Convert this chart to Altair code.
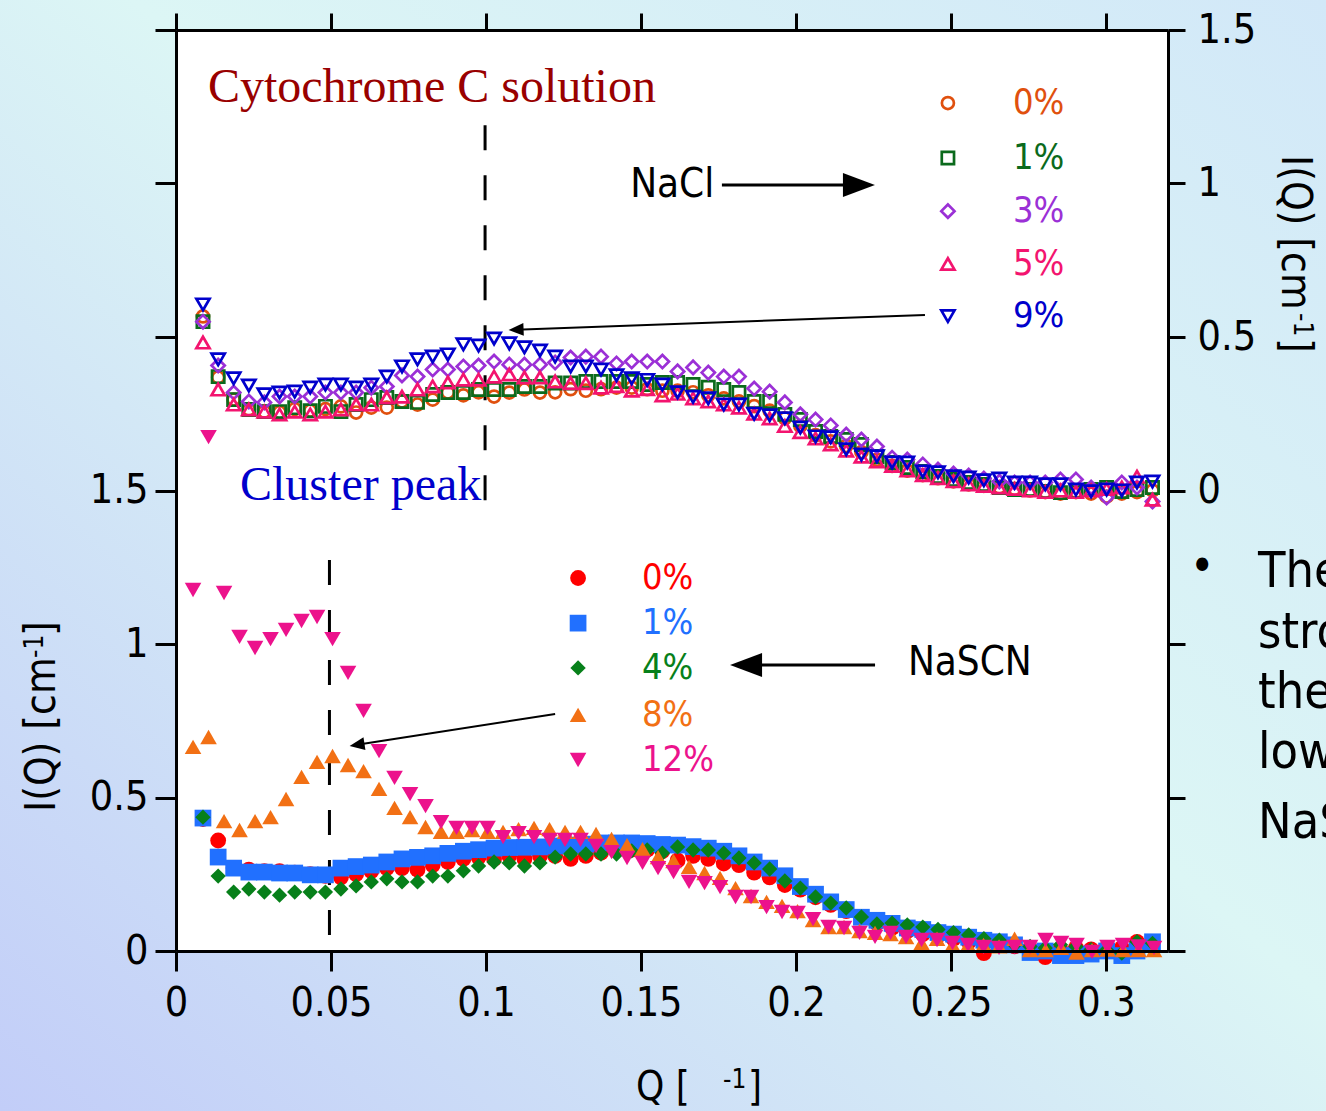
import altair as alt
import pandas as pd

# ---------------------------------------------------------------- layout
W, H = 992, 921                      # plot area in px
PAD = {"left": 176, "top": 30, "right": 158, "bottom": 160}
Q_MAX, I_MAX = 0.32, 3.0
NACL_SHIFT = 1.5                     # NaCl curves are lifted by 1.5 (right axis)
SANS = "DejaVu Sans Condensed"
SERIF = "Liberation Serif"

# ---------------------------------------------------------------- data
# Q grid of the NaCl runs and of NaSCN 0 %, 1 %, 4 %
Q_B = [0.0087, 0.0136, 0.0186, 0.0235, 0.0285, 0.0334, 0.0383, 0.0433, 0.0482, 0.0532,
       0.0581, 0.0630, 0.0680, 0.0729, 0.0779, 0.0828, 0.0877, 0.0927, 0.0976, 0.1026,
       0.1075, 0.1124, 0.1174, 0.1223, 0.1273, 0.1322, 0.1371, 0.1421, 0.1470, 0.1520,
       0.1569, 0.1618, 0.1668, 0.1717, 0.1767, 0.1816, 0.1865, 0.1915, 0.1964, 0.2014,
       0.2063, 0.2112, 0.2162, 0.2211, 0.2261, 0.2310, 0.2359, 0.2409, 0.2458, 0.2508,
       0.2557, 0.2606, 0.2656, 0.2705, 0.2755, 0.2804, 0.2853, 0.2903, 0.2952, 0.3002,
       0.3051, 0.3100, 0.3150]
# Q grid of NaSCN 8 % and 12 %
Q_A = [0.0055, 0.0105, 0.0155, 0.0205, 0.0255, 0.0305, 0.0355, 0.0405, 0.0455, 0.0505,
       0.0555, 0.0605, 0.0655, 0.0705, 0.0755, 0.0805, 0.0855, 0.0905, 0.0955, 0.1005,
       0.1055, 0.1105, 0.1155, 0.1205, 0.1255, 0.1305, 0.1355, 0.1405, 0.1455, 0.1505,
       0.1555, 0.1605, 0.1655, 0.1705, 0.1755, 0.1805, 0.1855, 0.1905, 0.1955, 0.2005,
       0.2055, 0.2105, 0.2155, 0.2205, 0.2255, 0.2305, 0.2355, 0.2405, 0.2455, 0.2505,
       0.2555, 0.2605, 0.2655, 0.2705, 0.2755, 0.2805, 0.2855, 0.2905, 0.2955, 0.3005,
       0.3055, 0.3105, 0.3155]

NACL_PCT = ["0%", "1%", "3%", "5%", "9%"]
NACL_0 = [0.567, 0.368, 0.296, 0.264, 0.257, 0.255, 0.265, 0.260, 0.265, 0.274,
          0.254, 0.270, 0.270, 0.290, 0.280, 0.296, 0.319, 0.310, 0.320, 0.306,
          0.319, 0.329, 0.319, 0.320, 0.330, 0.325, 0.330, 0.335, 0.335, 0.330,
          0.325, 0.325, 0.320, 0.310, 0.300, 0.290, 0.275, 0.260, 0.235, 0.210,
          0.180, 0.160, 0.145, 0.125, 0.100, 0.080, 0.065, 0.050, 0.040, 0.030,
          0.020, 0.015, 0.010, 0.005, 0.000, -0.005, -0.010, -0.005, -0.010, -0.020,
          -0.010, -0.005, 0.000]
NACL_1 = [0.550, 0.371, 0.296, 0.264, 0.257, 0.257, 0.270, 0.260, 0.274, 0.257,
          0.280, 0.296, 0.303, 0.290, 0.287, 0.313, 0.319, 0.319, 0.329, 0.329,
          0.329, 0.339, 0.339, 0.350, 0.350, 0.355, 0.355, 0.355, 0.355, 0.345,
          0.352, 0.352, 0.345, 0.336, 0.329, 0.319, 0.290, 0.290, 0.248, 0.231,
          0.192, 0.176, 0.166, 0.150, 0.111, 0.091, 0.075, 0.062, 0.046, 0.036,
          0.026, 0.020, 0.010, 0.003, 0.003, -0.003, -0.007, -0.003, 0.003, 0.010,
          -0.003, 0.003, 0.010]
NACL_3 = [0.550, 0.407, 0.319, 0.290, 0.287, 0.306, 0.306, 0.306, 0.319, 0.319,
          0.319, 0.335, 0.339, 0.375, 0.371, 0.394, 0.394, 0.404, 0.407, 0.420,
          0.410, 0.410, 0.410, 0.417, 0.433, 0.436, 0.436, 0.414, 0.420, 0.420,
          0.420, 0.388, 0.401, 0.384, 0.371, 0.371, 0.332, 0.322, 0.287, 0.248,
          0.231, 0.212, 0.182, 0.166, 0.143, 0.107, 0.101, 0.085, 0.068, 0.055,
          0.049, 0.039, 0.029, 0.026, 0.026, 0.026, 0.036, 0.036, 0.010, -0.023,
          0.026, 0.010, -0.036]
NACL_5 = [0.482, 0.329, 0.280, 0.264, 0.257, 0.248, 0.257, 0.248, 0.257, 0.264,
          0.280, 0.280, 0.303, 0.306, 0.329, 0.339, 0.352, 0.361, 0.361, 0.371,
          0.378, 0.368, 0.368, 0.355, 0.350, 0.350, 0.335, 0.340, 0.325, 0.330,
          0.310, 0.315, 0.300, 0.290, 0.280, 0.270, 0.250, 0.235, 0.210, 0.190,
          0.170, 0.150, 0.130, 0.110, 0.095, 0.080, 0.065, 0.050, 0.040, 0.030,
          0.020, 0.015, 0.010, 0.005, 0.000, -0.005, 0.000, -0.005, 0.000, 0.005,
          0.010, 0.045, -0.030]
NACL_9 = [0.606, 0.427, 0.365, 0.342, 0.313, 0.319, 0.322, 0.335, 0.345, 0.345,
          0.335, 0.345, 0.371, 0.404, 0.427, 0.436, 0.443, 0.476, 0.472, 0.495,
          0.479, 0.466, 0.456, 0.436, 0.404, 0.404, 0.394, 0.375, 0.365, 0.360,
          0.345, 0.320, 0.305, 0.300, 0.280, 0.280, 0.250, 0.245, 0.235, 0.205,
          0.176, 0.173, 0.134, 0.117, 0.111, 0.091, 0.091, 0.062, 0.059, 0.046,
          0.042, 0.033, 0.039, 0.026, 0.026, 0.020, 0.020, 0.003, -0.003, 0.003,
          0.000, 0.026, 0.029]
NACL_I = [NACL_0, NACL_1, NACL_3, NACL_5, NACL_9]

NASCN_PCT = ["0%", "1%", "4%", "8%", "12%"]
NASCN_0 = [0.430, 0.360, 0.270, 0.265, 0.260, 0.260, 0.255, 0.250, 0.245, 0.240,
           0.250, 0.260, 0.270, 0.270, 0.265, 0.280, 0.290, 0.300, 0.305, 0.300,
           0.310, 0.300, 0.310, 0.310, 0.300, 0.310, 0.320, 0.330, 0.330, 0.330,
           0.325, 0.295, 0.310, 0.300, 0.285, 0.280, 0.255, 0.240, 0.215, 0.200,
           0.175, 0.150, 0.130, 0.110, 0.090, 0.075, 0.065, 0.055, 0.050, 0.040,
           0.030, -0.007, 0.020, 0.015, 0.010, -0.020, 0.005, 0.010, 0.005, 0.010,
           0.010, 0.030, 0.030]
NASCN_1 = [0.433, 0.306, 0.270, 0.257, 0.257, 0.254, 0.254, 0.248, 0.248, 0.270,
           0.275, 0.280, 0.290, 0.300, 0.305, 0.310, 0.318, 0.325, 0.330, 0.335,
           0.337, 0.338, 0.339, 0.342, 0.345, 0.348, 0.352, 0.352, 0.352, 0.350,
           0.347, 0.345, 0.340, 0.335, 0.325, 0.310, 0.290, 0.270, 0.245, 0.210,
           0.185, 0.160, 0.135, 0.110, 0.100, 0.090, 0.075, 0.070, 0.060, 0.055,
           0.045, 0.035, 0.030, 0.020, -0.005, 0.000, -0.015, -0.015, -0.010, 0.000,
           -0.015, 0.000, 0.030]
NASCN_4 = [0.436, 0.244, 0.192, 0.202, 0.192, 0.182, 0.192, 0.192, 0.192, 0.202,
           0.212, 0.225, 0.235, 0.225, 0.225, 0.244, 0.244, 0.261, 0.277, 0.290,
           0.287, 0.277, 0.287, 0.306, 0.316, 0.316, 0.316, 0.316, 0.326, 0.329,
           0.319, 0.339, 0.329, 0.329, 0.319, 0.303, 0.287, 0.267, 0.228, 0.205,
           0.176, 0.156, 0.140, 0.111, 0.088, 0.091, 0.085, 0.078, 0.070, 0.060,
           0.052, 0.040, 0.035, 0.020, 0.015, 0.010, 0.020, 0.015, 0.005, 0.003,
           -0.007, 0.030, 0.025]
NASCN_8 = [0.665, 0.697, 0.423, 0.394, 0.423, 0.436, 0.495, 0.567, 0.616, 0.635,
           0.606, 0.586, 0.528, 0.466, 0.436, 0.404, 0.388, 0.388, 0.394, 0.388,
           0.388, 0.397, 0.401, 0.397, 0.388, 0.388, 0.381, 0.365, 0.345, 0.332,
           0.306, 0.293, 0.274, 0.254, 0.238, 0.205, 0.179, 0.160, 0.147, 0.130,
           0.101, 0.078, 0.078, 0.065, 0.059, 0.055, 0.045, 0.026, 0.040, 0.020,
           0.020, 0.020, 0.015, 0.040, 0.003, 0.003, 0.010, -0.005, 0.003, 0.005,
           0.003, 0.003, 0.003]
NASCN_12 = [1.176, 1.674, 1.166, 1.023, 0.987, 1.016, 1.046, 1.075, 1.088, 1.016,
            0.906, 0.782, 0.651, 0.564, 0.511, 0.472, 0.420, 0.401, 0.401, 0.401,
            0.371, 0.384, 0.371, 0.362, 0.362, 0.362, 0.342, 0.322, 0.303, 0.287,
            0.270, 0.257, 0.225, 0.221, 0.208, 0.176, 0.176, 0.143, 0.127, 0.124,
            0.104, 0.078, 0.075, 0.059, 0.046, 0.059, 0.046, 0.036, 0.036, 0.026,
            0.020, 0.013, 0.010, 0.013, 0.013, 0.036, 0.026, 0.020, -0.003, 0.013,
            0.020, 0.015, 0.010]
NASCN_I = [NASCN_0, NASCN_1, NASCN_4, NASCN_8, NASCN_12]
NASCN_Q = [Q_B, Q_B, Q_B, Q_A, Q_A]

NACL_COLORS = ["#e0500e", "#0b6a1c", "#9b30d6", "#f3146f", "#0000cc"]
NASCN_COLORS = ["#ff0000", "#2170ff", "#07801a", "#f27014", "#ec128c"]
MARKERS = ["circle", "square", "diamond", "triangle-up", "triangle-down"]
# symbol areas (px^2) per marker kind
NACL_SIZES = [145, 150, 175, 175, 175]
NASCN_SIZES = [250, 280, 235, 275, 275]

Q_TICKS = [0, 0.05, 0.1, 0.15, 0.2, 0.25, 0.3]
I_TICKS = [0, 0.5, 1.0, 1.5, 2.0, 2.5, 3.0]

# ---------------------------------------------------------------- tables
SERIES = [f"NaCl {p}" for p in NACL_PCT] + [f"NaSCN {p}" for p in NASCN_PCT]

nacl_rows = []
for pct, vals, sz in zip(NACL_PCT, NACL_I, NACL_SIZES):
    assert len(vals) == len(Q_B)
    nacl_rows += [{"Q": q, "I": v, "series": f"NaCl {pct}", "sz": sz} for q, v in zip(Q_B, vals)]
nacl_df = pd.DataFrame(nacl_rows)

nascn_rows = []
for pct, qs, vals, sz in zip(NASCN_PCT, NASCN_Q, NASCN_I, NASCN_SIZES):
    assert len(vals) == len(qs)
    nascn_rows += [{"Q": q, "I": v, "series": f"NaSCN {pct}", "sz": sz} for q, v in zip(qs, vals)]
nascn_df = pd.DataFrame(nascn_rows)

color_scale = alt.Scale(domain=SERIES, range=NACL_COLORS + NASCN_COLORS)
shape_scale = alt.Scale(domain=SERIES, range=MARKERS + MARKERS)
xs = alt.Scale(domain=[0, Q_MAX], nice=False, zero=False)
ys = alt.Scale(domain=[0, I_MAX], nice=False, zero=False)

# ---------------------------------------------------------------- axes
AX = dict(domainColor="black", domainWidth=3, tickColor="black", tickWidth=3,
          labelFont=SANS, labelFontSize=41, labelColor="black", grid=False,
          title=None, labelFlush=False, labelOverlap=False, zindex=2)
axis_bottom = alt.Axis(orient="bottom", values=Q_TICKS, format=".2~f",
                       tickSize=20, labelPadding=12, **AX)
axis_left = alt.Axis(orient="left", values=I_TICKS, tickSize=21, labelPadding=7,
                     labelExpr="datum.value <= 1.5 ? format(datum.value, '.2~f') : ''", **AX)
axis_top = alt.Axis(orient="top", values=Q_TICKS, labels=False, tickSize=17, **AX)
axis_right = alt.Axis(orient="right", values=I_TICKS, tickSize=17, labelPadding=12,
                      labelExpr="datum.value >= 1.5 ? format(datum.value - 1.5, '.2~f') : ''", **AX)


def X(field, axis=None):
    return alt.X(f"{field}:Q", scale=xs, axis=axis)


def Y(field, axis=None):
    return alt.Y(f"{field}:Q", scale=ys, axis=axis)


def SHAPE():
    return alt.Shape("series:N", scale=shape_scale, legend=None)


def COLOR():
    return alt.Color("series:N", scale=color_scale, legend=None)


one = pd.DataFrame({"k": [0]})

# ---------------------------------------------------------------- background
bg = alt.Chart(one).mark_rect(
    fill=alt.LinearGradient(
        gradient="linear", x1=0, y1=1, x2=1, y2=0,
        stops=[alt.GradientStop(color="#c2cdf8", offset=0),
               alt.GradientStop(color="#dcf6f5", offset=0.55),
               alt.GradientStop(color="#d2e8f8", offset=1)])
).encode(x=alt.value(-PAD["left"]), x2=alt.value(W + PAD["right"]),
         y=alt.value(-PAD["top"]), y2=alt.value(H + PAD["bottom"]))

plot_bg = alt.Chart(one).mark_rect(fill="white").encode(
    x=alt.value(0), x2=alt.value(W), y=alt.value(0), y2=alt.value(H))

# ---------------------------------------------------------------- data marks
nacl = alt.Chart(nacl_df).transform_calculate(
    Ioff=f"datum.I + {NACL_SHIFT}"
).mark_point(filled=False, strokeWidth=2.7, opacity=1).encode(
    x=X("Q", axis_bottom), y=Y("Ioff", axis_left),
    shape=SHAPE(), color=COLOR(), size=alt.Size("sz:Q", scale=None),
)

nascn = alt.Chart(nascn_df).mark_point(filled=True, opacity=1).encode(
    x=X("Q", axis_top), y=Y("I", axis_right),
    shape=SHAPE(), color=COLOR(), size=alt.Size("sz:Q", scale=None),
)

# ---------------------------------------------------------------- legends
nacl_leg = pd.DataFrame({
    "series": [f"NaCl {p}" for p in NACL_PCT], "label": NACL_PCT, "sz": NACL_SIZES,
    "qs": [0.249] * 5, "qt": [0.270] * 5,
    "i": [2.762, 2.583, 2.410, 2.238, 2.068]})
nascn_leg = pd.DataFrame({
    "series": [f"NaSCN {p}" for p in NASCN_PCT], "label": NASCN_PCT, "sz": NASCN_SIZES,
    "qs": [0.1297] * 5, "qt": [0.1503] * 5,
    "i": [1.215, 1.068, 0.922, 0.769, 0.622]})

leg_layers = []
for df, filled in [(nacl_leg, False), (nascn_leg, True)]:
    leg_layers.append(alt.Chart(df).mark_point(filled=filled, strokeWidth=2.7, opacity=1).encode(
        x=X("qs"), y=Y("i"), shape=SHAPE(), color=COLOR(),
        size=alt.Size("sz:Q", scale=None)))
    leg_layers.append(alt.Chart(df).mark_text(align="left", baseline="middle", font=SANS, fontSize=36).encode(
        x=X("qt"), y=Y("i"), text="label:N", color=COLOR()))

# ---------------------------------------------------------------- annotations
dashes = alt.Chart(pd.DataFrame({"q": [0.0997, 0.0495], "top": [2.69, 1.274], "bot": [1.453, 0.052]})
                   ).mark_rule(color="black", strokeWidth=3, strokeDash=[25, 25]).encode(
    x=X("q"), y=Y("top"), y2="bot:Q")

arrow_lines = alt.Chart(pd.DataFrame({
    "q1": [0.1761, 0.2255, 0.2416, 0.1223],
    "i1": [2.495, 0.932, 2.0717, 0.772],
    "q2": [0.2184, 0.1868, 0.1097, 0.0584],
    "i2": [2.495, 0.932, 2.0238, 0.6717],
    "w": [3, 3, 2, 2]})).mark_rule(color="black").encode(
    x=X("q1"), y=Y("i1"), x2="q2:Q", y2="i2:Q",
    strokeWidth=alt.StrokeWidth("w:Q", scale=None))

HEAD_R = "M1,0L-1,-0.75L-1,0.75Z"
HEAD_L = "M-1,0L1,-0.75L1,0.75Z"
HEAD_L_THIN = "M-1,0L1,-0.85L1,0.85Z"
arrow_heads = alt.Chart(pd.DataFrame({
    "q": [0.2203, 0.1839, 0.1097, 0.0584],
    "i": [2.495, 0.932, 2.0238, 0.6717],
    "path": [HEAD_R, HEAD_L, HEAD_L_THIN, HEAD_L_THIN],
    "size": [1024, 1024, 225, 225],
    "angle": [0, 0, 357.9, 351.2]})).mark_point(filled=True, color="black", opacity=1).encode(
    x=X("q"), y=Y("i"),
    shape=alt.Shape("path:N", scale=None),
    size=alt.Size("size:Q", scale=None),
    angle=alt.Angle("angle:Q", scale=None))


def note(text, q, i, font, size, color, baseline="alphabetic"):
    return alt.Chart(pd.DataFrame({"t": [text], "q": [q], "i": [i]})).mark_text(
        align="left", baseline=baseline, font=font, fontSize=size, color=color).encode(
        x=X("q"), y=Y("i"), text="t:N")


notes = [
    note("Cytochrome C solution", 0.0103, 2.765, SERIF, 48, "#990000"),
    note("Cluster peak", 0.02065, 1.469, SERIF, 48, "#0000cc"),
    note("NaCl", 0.1465, 2.495, SANS, 40, "black", "middle"),
    note("NaSCN", 0.2361, 0.938, SANS, 40, "black", "middle"),
]


def ptext(text, x, y, size, angle=0, font=SANS, align="left", baseline="alphabetic"):
    return alt.Chart(pd.DataFrame({"t": [text]})).mark_text(
        align=align, baseline=baseline, font=font, fontSize=size, angle=angle, color="black"
    ).encode(x=alt.value(x), y=alt.value(y), text="t:N")


titles = [
    # Q [Å^-1]
    ptext("Q [", 460, 1070, 40),
    ptext("-1", 547, 1058, 26),
    ptext("]", 572, 1070, 40),
    # left I(Q) [cm^-1]
    ptext("I(Q) [cm", -121, 782, 42, angle=270),
    ptext("-1", -133, 628, 26, angle=270),
    ptext("]", -121, 606, 42, angle=270),
    # right I(Q) [cm^-1]
    ptext("I(Q) [cm", 1106, 125, 42, angle=90),
    ptext("-1", 1118, 283, 26, angle=90),
    ptext("]", 1106, 308, 42, angle=90),
]

side = [
    ptext("\u2022", 1014, 538, 46, baseline="middle"),
    ptext("The", 1082, 557, 50),
    ptext("strong", 1082, 618, 50),
    ptext("the", 1082, 678, 50),
    ptext("low", 1082, 738, 50),
    ptext("NaSCN", 1082, 808, 50),
]

chart = alt.layer(
    bg, plot_bg, dashes, nacl, nascn, *leg_layers, arrow_lines, arrow_heads,
    *notes, *titles, *side
).resolve_axis(x="independent", y="independent").properties(
    width=W, height=H,
    autosize=alt.AutoSizeParams(type="none"),
    padding=PAD,
    background="#d6eef6",
).configure_view(stroke=None)

chart.save("out.html", embed_options={"renderer": "svg", "actions": False})
